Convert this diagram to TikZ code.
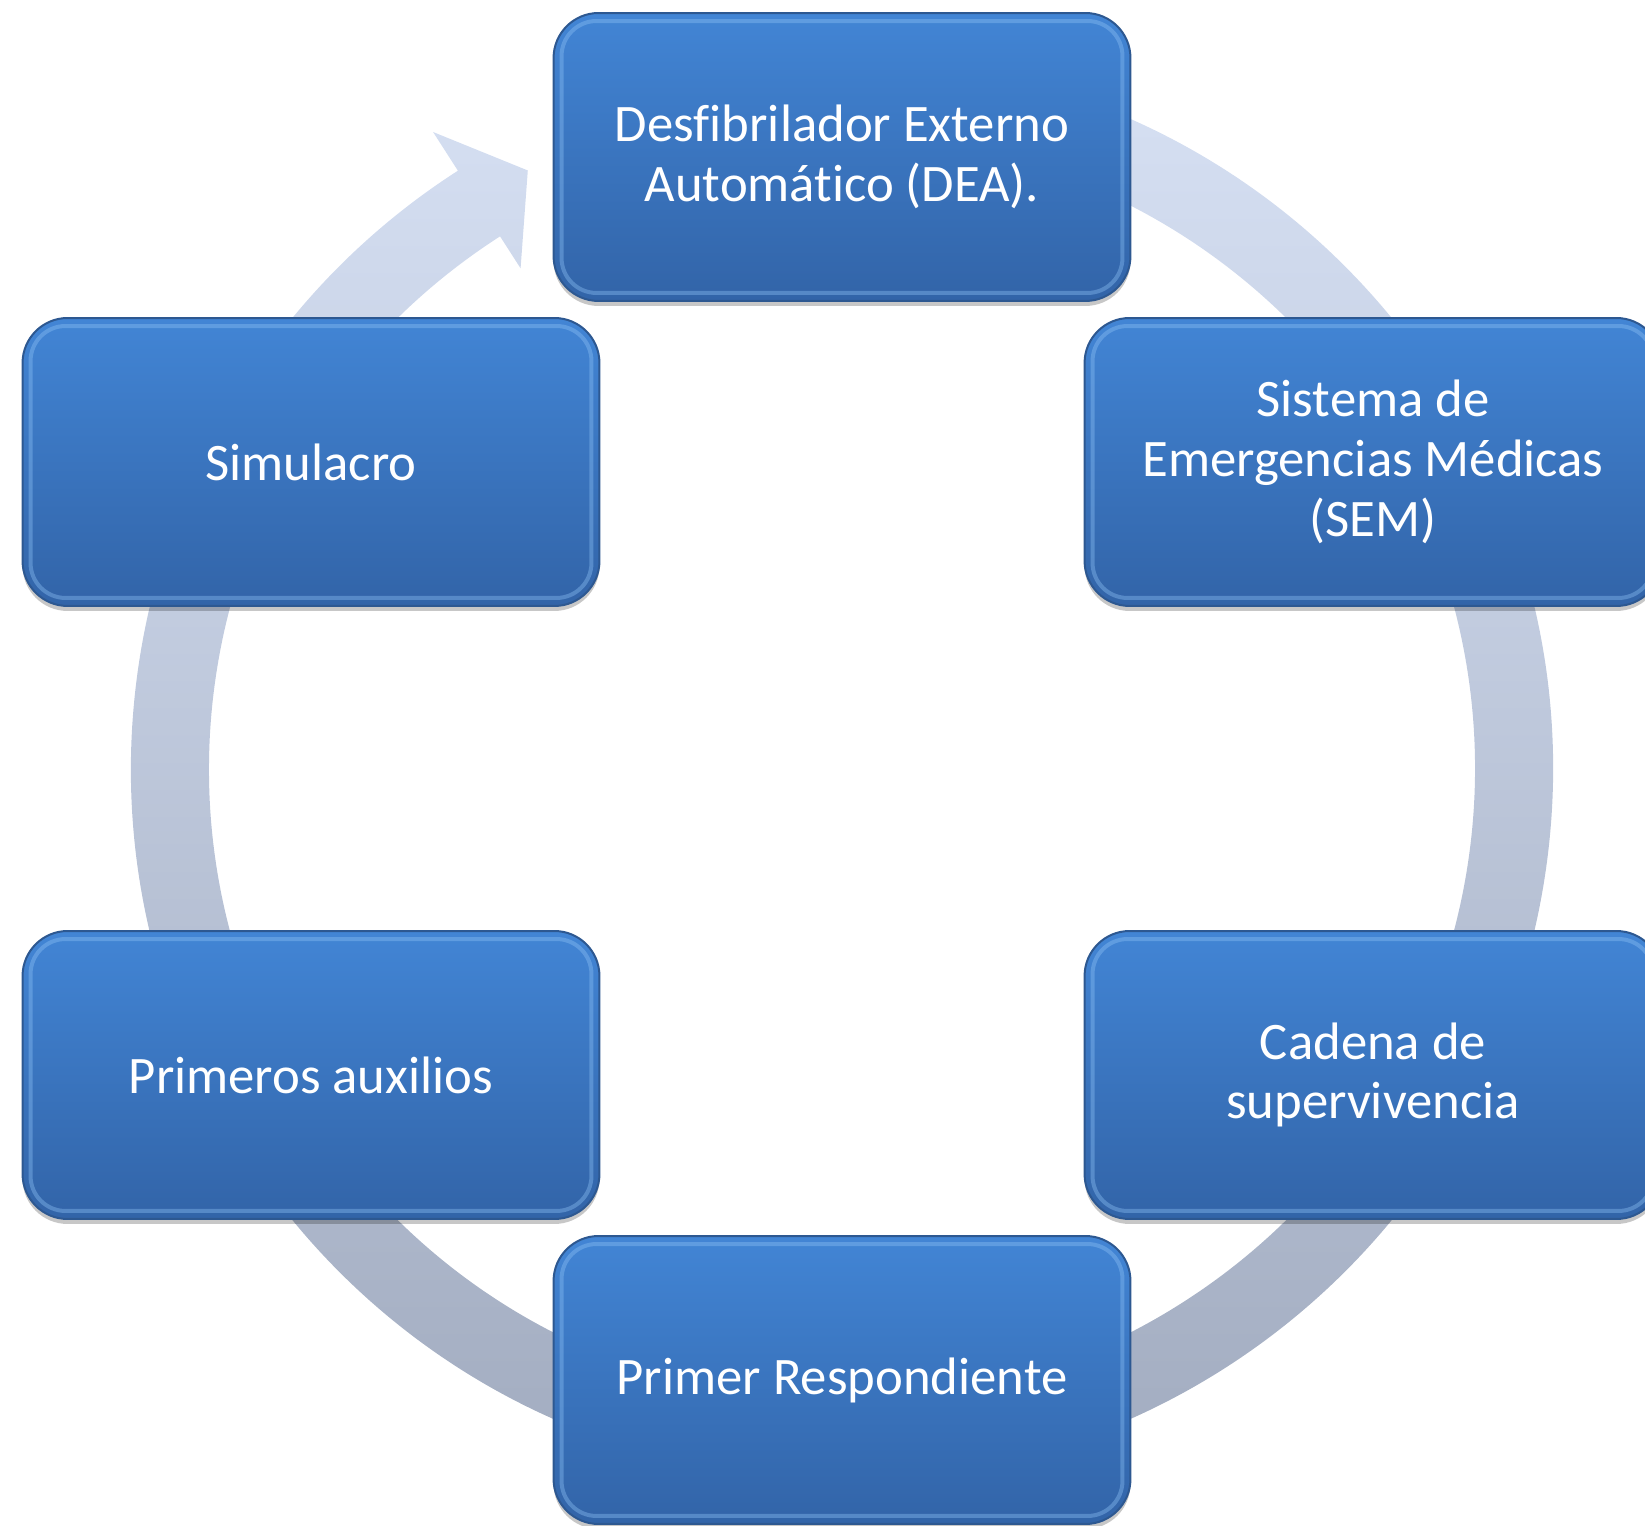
\documentclass[tikz,border=0pt]{standalone}
\usepackage{fontspec}
\setmainfont{Carlito}[Ligatures=NoCommon]
\usetikzlibrary{shadows}
\definecolor{boxtop}{RGB}{66,133,213}
\definecolor{boxbot}{RGB}{50,100,168}
\definecolor{boxline}{RGB}{45,88,145}
\definecolor{ringtop}{RGB}{214,224,243}
\definecolor{ringbot}{RGB}{160,170,190}
\definecolor{bevel}{RGB}{140,192,244}
\begin{document}
\begin{tikzpicture}[x=0.02cm,y=0.02cm,
  stepbox/.style={rounded corners=0.9cm, minimum width=11.54cm, minimum height=5.76cm,
    top color=boxtop, bottom color=boxbot, draw=boxline, line width=0.04cm,
    text=white, align=center, font=\fontsize{30}{34}\selectfont,
    drop shadow={shadow xshift=0cm, shadow yshift=-0.1cm, opacity=0.22, fill=black}},
  bevelline/.style={draw=bevel, line width=0.08cm, opacity=0.4, rounded corners=0.7cm}
  ]
\useasboundingbox (0,0) rectangle (1645,1525);
\coordinate (C) at (842,756);
% ring arrow
\begin{scope}[shift={(C)}]
\shade[top color=ringtop, bottom color=ringbot]
  (80:711) arc[start angle=80,end angle=-237.3,radius=711]
  -- (-237.3:757) -- (-242.3:676) -- (-237.3:595) -- (-237.3:633)
  arc[start angle=-237.3,end angle=80,radius=633] -- cycle;
\end{scope}
% boxes
\node[stepbox] (dea) at (842,1368) {Desfibrilador Externo\\Automático (DEA).};
\node[stepbox] (sem) at (1373,1063) {Sistema de\\Emergencias Médicas\\(SEM)};
\node[stepbox] (cad) at (1373,450) {Cadena de\\supervivencia};
\node[stepbox] (pr) at (842,145) {Primer Respondiente};
\node[stepbox] (pa) at (311,450) {Primeros auxilios};
\node[stepbox] (sim) at (311,1063) {Simulacro};
\foreach \n in {dea,sem,cad,pr,pa,sim}
  \draw[bevelline] ([shift={(9,9)}]\n.south west) rectangle ([shift={(-9,-9)}]\n.north east);
\end{tikzpicture}
\end{document}
